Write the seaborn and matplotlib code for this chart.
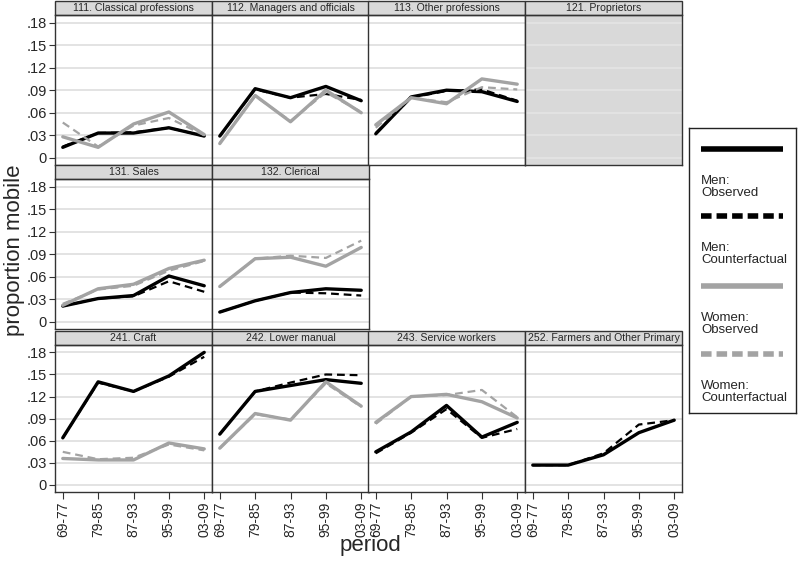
import pandas as pd
import matplotlib
matplotlib.use('Agg')
import matplotlib.pyplot as plt
from matplotlib.patches import Rectangle
import seaborn as sns

# Periods and panels
periods = ['69-77', '79-85', '87-93', '95-99', '03-09']
titles = {
    '111': '111. Classical professions',
    '112': '112. Managers and officials',
    '113': '113. Other professions',
    '121': '121. Proprietors',
    '131': '131. Sales',
    '132': '132. Clerical',
    '241': '241. Craft',
    '242': '242. Lower manual',
    '243': '243. Service workers',
    '252': '252. Farmers and Other Primary',
}
grid_pos = {'111': (0, 0), '112': (0, 1), '113': (0, 2), '121': (0, 3),
            '131': (1, 0), '132': (1, 1),
            '241': (2, 0), '242': (2, 1), '243': (2, 2), '252': (2, 3)}

# Proportion mobile
men_obs = {
    '111': [0.014, 0.033, 0.033, 0.040, 0.029],
    '112': [0.029, 0.092, 0.080, 0.095, 0.076],
    '113': [0.032, 0.081, 0.090, 0.088, 0.075],
    '131': [0.021, 0.031, 0.035, 0.061, 0.048],
    '132': [0.013, 0.028, 0.039, 0.044, 0.042],
    '241': [0.064, 0.140, 0.127, 0.148, 0.180],
    '242': [0.069, 0.127, 0.135, 0.143, 0.138],
    '243': [0.045, 0.072, 0.108, 0.065, 0.085],
    '252': [0.027, 0.027, 0.041, 0.071, 0.088],
}
men_cf = {
    '111': [0.015, 0.033, 0.034, 0.040, 0.029],
    '112': [0.029, 0.091, 0.080, 0.085, 0.077],
    '113': [0.033, 0.080, 0.089, 0.091, 0.076],
    '131': [0.021, 0.031, 0.034, 0.054, 0.040],
    '132': [0.013, 0.028, 0.039, 0.038, 0.035],
    '241': [0.064, 0.139, 0.127, 0.147, 0.174],
    '242': [0.069, 0.127, 0.139, 0.150, 0.149],
    '243': [0.043, 0.071, 0.103, 0.064, 0.076],
    '252': [0.027, 0.027, 0.043, 0.082, 0.088],
}
women_obs = {
    '111': [0.028, 0.014, 0.045, 0.061, 0.031],
    '112': [0.019, 0.083, 0.048, 0.090, 0.060],
    '113': [0.044, 0.080, 0.072, 0.105, 0.098],
    '131': [0.022, 0.044, 0.050, 0.071, 0.082],
    '132': [0.047, 0.084, 0.086, 0.074, 0.099],
    '241': [0.036, 0.034, 0.034, 0.057, 0.049],
    '242': [0.050, 0.097, 0.088, 0.140, 0.107],
    '243': [0.085, 0.120, 0.123, 0.113, 0.091],
}
women_cf = {
    '111': [0.047, 0.015, 0.043, 0.053, 0.030],
    '112': [0.020, 0.082, 0.049, 0.087, 0.061],
    '113': [0.040, 0.080, 0.074, 0.094, 0.091],
    '131': [0.024, 0.043, 0.048, 0.068, 0.081],
    '132': [0.047, 0.084, 0.088, 0.085, 0.108],
    '241': [0.045, 0.035, 0.037, 0.055, 0.047],
    '242': [0.050, 0.096, 0.089, 0.138, 0.106],
    '243': [0.083, 0.120, 0.122, 0.129, 0.092],
}

yticks = [0, 0.03, 0.06, 0.09, 0.12, 0.15, 0.18]
ytick_labels = ['0', '.03', '.06', '.09', '.12', '.15', '.18']

sns.set_style('white')
plt.rcParams['font.family'] = ['Liberation Sans', 'DejaVu Sans']

BLACK = '#000000'
GRAY = '#a3a3a3'
series = [
    (men_obs, BLACK, '-', 2.4),
    (men_cf, BLACK, '--', 1.6),
    (women_obs, GRAY, '-', 2.4),
    (women_cf, GRAY, '--', 1.6),
]

W, H = 800, 563
fig = plt.figure(figsize=(8, 5.63), dpi=100)

col_left = [55, 212, 368, 525]
col_w = 157
row_top = [15, 179, 345]
row_bot = [165, 329, 492]
header_h = 14

for code, (r, c) in grid_pos.items():
    x0 = col_left[c]
    y0, y1 = row_top[r], row_bot[r]
    ax = fig.add_axes([x0 / W, 1 - y1 / H, col_w / W, (y1 - y0) / H])

    if code == '121':
        ax.set_facecolor('#d9d9d9')
    else:
        for values, color, ls, lw in series:
            if code not in values:
                continue
            df = pd.DataFrame({'period': periods, 'value': values[code]})
            sns.lineplot(data=df, x='period', y='value', color=color,
                         linestyle=ls, linewidth=lw, errorbar=None, ax=ax,
                         dashes=False)
            if ls == '--':
                ax.lines[-1].set_dashes((3.5, 2.2))
    ax.set_xlim(-0.22, 4.22)
    ax.set_ylim(-0.0095, 0.19)

    ax.set_yticks(yticks)
    ax.yaxis.grid(True, color='#e3e3e3', linewidth=1.4)
    ax.set_axisbelow(True)
    ax.set_xlabel('')
    ax.set_ylabel('')

    if c == 0:
        ax.set_yticklabels(ytick_labels, fontsize=10.5)
        ax.tick_params(axis='y', length=4, width=0.8, color='#333333', pad=2, left=True)
    else:
        ax.set_yticklabels([])
        ax.tick_params(axis='y', length=0, left=False)

    if r == 2:
        ax.set_xticks(range(len(periods)))
        ax.set_xticklabels(periods, rotation=90, fontsize=10)
        ax.tick_params(axis='x', length=5, width=0.8, color='#333333', pad=2, bottom=True)
    else:
        ax.set_xticks([])

    for sp in ax.spines.values():
        sp.set_color('#333333')
        sp.set_linewidth(1.0)

    # header strip
    ax.add_patch(Rectangle((0, 1), 1, header_h / (y1 - y0), transform=ax.transAxes,
                           facecolor='#d9d9d9', edgecolor='#333333', linewidth=1.0,
                           clip_on=False))
    ax.text(0.5, 1 + header_h / (y1 - y0) / 2, titles[code], transform=ax.transAxes,
            ha='center', va='center', fontsize=7.6)

fig.text(15 / W, 1 - 250 / H, 'proportion mobile', rotation=90, ha='center',
         va='center', fontsize=16)
fig.text(370 / W, 1 - 545 / H, 'period', ha='center', va='center', fontsize=16)

# legend box: line sample above each label
lax = fig.add_axes([689 / W, 1 - 413 / H, 107 / W, 285 / H])
lax.set_xlim(689, 796)
lax.set_ylim(413, 128)
lax.set_xticks([])
lax.set_yticks([])
for sp in lax.spines.values():
    sp.set_color('#222222')
    sp.set_linewidth(1.0)
leg_labels = ['Men:\nObserved', 'Men:\nCounterfactual',
              'Women:\nObserved', 'Women:\nCounterfactual']
leg_colors = [BLACK, BLACK, GRAY, GRAY]
leg_styles = ['-', '--', '-', '--']
leg_line_y = [149, 216, 286, 354]
for lab, col, ls, ly in zip(leg_labels, leg_colors, leg_styles, leg_line_y):
    ln, = lax.plot([701, 783], [ly, ly], color=col, linestyle=ls, linewidth=4,
                   solid_capstyle='butt')
    if ls == '--':
        ln.set_dashes((1.9, 0.9))
    lax.text(701, ly + 26, lab, ha='left', va='top', fontsize=9.5, linespacing=0.95)

fig.savefig('out.png', dpi=100)
